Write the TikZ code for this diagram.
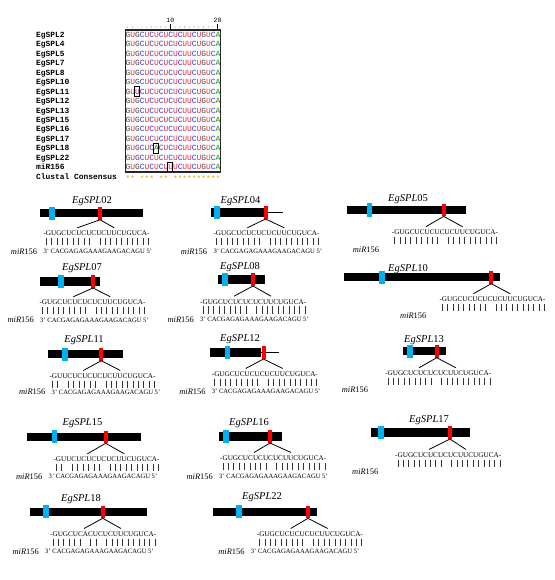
\documentclass[tikz,border=0pt]{standalone}
\usepackage{fontspec}
\setmainfont{Liberation Serif}
\newfontfamily\alnfont{Liberation Mono}
\usetikzlibrary{positioning}

\definecolor{markblue}{RGB}{0,176,240}
\definecolor{markred}{RGB}{255,0,0}
\definecolor{ntU}{RGB}{230,40,60}
\definecolor{ntC}{RGB}{50,50,235}
\definecolor{ntG}{RGB}{70,70,70}
\definecolor{ntA}{RGB}{0,150,0}
\definecolor{starorange}{RGB}{235,160,20}

% one coloured nucleotide, and a whole coloured row
\newcommand{\ntc}[1]{\if#1U\textcolor{ntU}{U}\else\if#1C\textcolor{ntC}{C}\else\if#1A\textcolor{ntA}{A}\else\textcolor{ntG}{#1}\fi\fi\fi}
\def\colseq#1{\colseqi#1\relax}
\def\colseqi#1{\ifx#1\relax\else\ntc{#1}\expandafter\colseqi\fi}

\newcommand{\gname}[1]{\textit{EgSPL}#1}
\newcommand{\mirname}{\textit{miR}156}

\tikzset{
  gtitle/.style={inner sep=0, font=\fontsize{10.5pt}{12pt}\selectfont},
  gbar/.style={fill=black, anchor=west, inner sep=0, minimum height=8.3pt},
  thinbar/.style={line width=1.2pt},
  bluemark/.style={fill=markblue, inner sep=0, minimum width=5.8pt, minimum height=13.3pt},
  redmark/.style={fill=markred, inner sep=0, minimum width=4pt, minimum height=12.6pt},
  seqtxt/.style={anchor=west, inner sep=0, font=\fontsize{7.2pt}{8pt}\selectfont},
  mirtxt/.style={anchor=west, inner sep=0, font=\fontsize{6.6pt}{8pt}\selectfont},
  mirlab/.style={inner sep=0, font=\fontsize{8.4pt}{9pt}\selectfont},
  fan/.style={line width=0.8pt},
  pairline/.style={line width=0.7pt, black!80},
  alnlab/.style={anchor=base west, inner sep=0, font=\alnfont\bfseries\fontsize{7.9pt}{9pt}\selectfont},
  alnseq/.style={anchor=base west, inner sep=0, font=\alnfont\fontsize{7.9pt}{9pt}\selectfont},
  alnbox/.style={line width=1.2pt, black!85},
  hitbox/.style={line width=1pt}
}

% target site under the red mark: sequence, fan and base pairs
\newcommand{\mirsite}[5]{%
  \node[seqtxt] (s#1) at (#2,#3) {-#4-};
  \coordinate (fl#1) at ({#2+34},{#3-5.5});
  \coordinate (fr#1) at ({#2+71},{#3-5.5});
  \draw[fan] (fl#1) -- (r#1.south) -- (fr#1);
  \foreach \k in {#5}
    \draw[pairline] ({#2+3+(\k-1)*5.37},{#3+4.5}) -- ++(0,7.5);
}
% miR156 strand with its label
\newcommand{\mirthree}[3]{%
  \node[mirtxt] (p#1) at (#2,#3) {3' CACGAGAGAAAGAAGACAGU 5'};
  \node[mirlab, left=6pt of p#1] (m#1) {\mirname};
}

\begin{document}
\begin{tikzpicture}[x=1pt,y=-1pt]
\useasboundingbox (0,0) rectangle (554,580);

% alignment
\foreach \lab/\sq [count=\i] in {EgSPL2/GUGCUCUCUCUCUUCUGUCA, EgSPL4/GUGCUCUCUCUCUUCUGUCA,
    EgSPL5/GUGCUCUCUCUCUUCUGUCA, EgSPL7/GUGCUCUCUCUCUUCUGUCA, EgSPL8/GUGCUCUCUCUCUUCUGUCA,
    EgSPL10/GUGCUCUCUCUCUUCUGUCA, EgSPL11/GUUCUCUCUCUCUUCUGUCA, EgSPL12/GUGCUCUCUCUCUUCUGUCA,
    EgSPL13/GUGCUCUCUCUCUUCUGUCA, EgSPL15/GUGCUCUCUCUCUUCUGUCA, EgSPL16/GUGCUCUCUCUCUUCUGUCA,
    EgSPL17/GUGCUCUCUCUCUUCUGUCA, EgSPL18/GUGCUCACUCUCUUCUGUCA, EgSPL22/GUGCUCUCUCUCUUCUGUCA,
    miR156/GUGCUCUCUUUCUUCUGUCA}{
  \node[alnlab] (l\i) at (36,{37.3+(\i-1)*9.47}) {\lab};
  \node[alnseq] (q\i) at (125.4,{37.3+(\i-1)*9.47}) {\expandafter\colseq\expandafter{\sq}};
}
\node[alnlab] (l16) at (36,179.3) {Clustal Consensus};
\node[alnseq, text=starorange] (q16) at (125.4,181) {**\ ***\ **\ **********};
\draw[alnbox] (125.3,30) rectangle (220.5,172);
\draw[hitbox] (134.6,86.8) rectangle (139.6,96.8);
\draw[hitbox] (153.4,143.6) rectangle (158.4,153.6);
\draw[hitbox] (167.9,172) -- (167.9,162.6) -- (172.8,162.6) -- (172.8,172);
% ruler
\foreach \k in {1,...,9,11,12,...,19}
  \fill ({125.3+(\k-0.5)*4.735},27) circle (0.35);
\draw[line width=0.5pt] (170.3,24.5) -- (170.3,29) (217.6,24.5) -- (217.6,29);
\node[inner sep=0, font=\alnfont\fontsize{6.5pt}{7pt}\selectfont] (n10) at (170.3,20.5) {10};
\node[inner sep=0, font=\alnfont\fontsize{6.5pt}{7pt}\selectfont] (n20) at (217.6,20.5) {20};

% EgSPL02
\node[gtitle] (t02) at (92,201) {\gname{02}};
\node[gbar, minimum width=103.4pt] (b02) at (39.3,213.3) {};
\node[bluemark] (u02) at (52.2,213.3) {};
\node[redmark] (r02) at (100,213.3) {};
\mirsite{02}{43.3}{233.3}{GUGCUCUCUCUCUUCUGUCA}{1,...,9,11,12,...,20}
\mirthree{02}{43.3}{251.5}

% EgSPL04
\node[gtitle] (t04) at (240.5,201) {\gname{04}};
\node[gbar, minimum width=52.5pt] (b04) at (211,212.5) {};
\coordinate (e04) at (283.3,212.5);
\draw[thinbar] (b04.east) -- (e04);
\node[bluemark] (u04) at (217.2,212.5) {};
\node[redmark] (r04) at (265.5,212.5) {};
\mirsite{04}{213.3}{233.3}{GUGCUCUCUCUCUUCUGUCA}{1,...,9,11,12,...,20}
\mirthree{04}{213.3}{251.5}

% EgSPL05
\node[gtitle] (t05) at (408,199) {\gname{05}};
\node[gbar, minimum width=119.3pt] (b05) at (346.7,209.9) {};
\node[bluemark] (u05) at (369.5,209.9) {};
\node[redmark] (r05) at (443.7,209.9) {};
\mirsite{05}{391.7}{232.3}{GUGCUCUCUCUCUUCUGUCA}{1,...,9,11,12,...,20}
\node[mirlab, anchor=west] (m05) at (352.7,249.3) {\mirname};

% EgSPL07
\node[gtitle] (t07) at (82,268) {\gname{07}};
\node[gbar, minimum width=60.7pt] (b07) at (39.3,281.5) {};
\node[bluemark] (u07) at (61.3,281.5) {};
\node[redmark] (r07) at (93,281.5) {};
\mirsite{07}{39.3}{302.3}{GUGCUCUCUCUCUUCUGUCA}{1,...,9,11,12,...,20}
\mirthree{07}{40}{320}

% EgSPL08
\node[gtitle] (t08) at (240,267) {\gname{08}};
\node[gbar, minimum width=47.3pt] (b08) at (217.7,279.5) {};
\node[bluemark] (u08) at (225.3,279.5) {};
\node[redmark] (r08) at (253,279.5) {};
\mirsite{08}{200}{301.7}{GUGCUCUCUCUCUUCUGUCA}{1,...,9,11,12,...,20}
\mirthree{08}{200}{319.5}

% EgSPL10
\node[gtitle] (t10) at (408,269) {\gname{10}};
\node[gbar, minimum width=155.3pt] (b10) at (344,277.2) {};
\node[bluemark] (u10) at (382,277.2) {};
\node[redmark] (r10) at (491.3,277.2) {};
\mirsite{10}{439.3}{299.3}{GUGCUCUCUCUCUUCUGUCA}{1,...,9,11,12,...,20}
\node[mirlab, anchor=west] (m10) at (400,316) {\mirname};

% EgSPL11
\node[gtitle] (t11) at (84,340) {\gname{11}};
\node[gbar, minimum width=75pt] (b11) at (47.7,354.2) {};
\node[bluemark] (u11) at (65.3,354.2) {};
\node[redmark] (r11) at (101.3,354.2) {};
\mirsite{11}{49.3}{376}{GUUCUCUCUCUCUUCUGUCA}{1,2,4,5,...,9,11,12,...,20}
\mirthree{11}{51.5}{392}

% EgSPL12
\node[gtitle] (t12) at (240,339) {\gname{12}};
\node[gbar, minimum width=51.7pt] (b12) at (209.3,352.5) {};
\coordinate (e12) at (279.3,352.5);
\draw[thinbar] (b12.east) -- (e12);
\node[bluemark] (u12) at (227.5,352.5) {};
\node[redmark] (r12) at (263.5,352.5) {};
\mirsite{12}{211.7}{374}{GUGCUCUCUCUCUUCUGUCA}{1,...,9,11,12,...,20}
\mirthree{12}{211.7}{391.5}

% EgSPL13
\node[gtitle] (t13) at (424,340) {\gname{13}};
\node[gbar, minimum width=43pt] (b13) at (402.7,351.2) {};
\node[bluemark] (u13) at (409.7,351.2) {};
\node[redmark] (r13) at (436.7,351.2) {};
\mirsite{13}{385}{373.3}{GUGCUCUCUCUCUUCUGUCA}{1,...,9,11,12,...,20}
\node[mirlab, anchor=west] (m13) at (341.7,390) {\mirname};

% EgSPL15
\node[gtitle] (t15) at (82.5,423.3) {\gname{15}};
\node[gbar, minimum width=114.3pt] (b15) at (26.7,436.8) {};
\node[bluemark] (u15) at (54.5,436.8) {};
\node[redmark] (r15) at (105.7,436.8) {};
\mirsite{15}{53.3}{459.3}{GUUCUCUCUCUCUUCUGUCA}{1,2,4,5,...,9,11,12,...,20}
\mirthree{15}{48.5}{476.5}

% EgSPL16
\node[gtitle] (t16) at (249,423) {\gname{16}};
\node[gbar, minimum width=63.7pt] (b16) at (218.3,436.5) {};
\node[bluemark] (u16) at (226.3,436.5) {};
\node[redmark] (r16) at (270,436.5) {};
\mirsite{16}{220}{458}{GUGCUCUCUCUCUUCUGUCA}{1,...,9,11,12,...,20}
\mirthree{16}{219}{476.5}

% EgSPL17
\node[gtitle] (t17) at (429,420) {\gname{17}};
\node[gbar, minimum width=99pt] (b17) at (371,432.5) {};
\node[bluemark] (u17) at (381,432.5) {};
\node[redmark] (r17) at (450,432.5) {};
\mirsite{17}{395}{455}{GUGCUCUCUCUCUUCUGUCA}{1,...,9,11,12,...,20}
\node[mirlab, anchor=west] (m17) at (352,472) {\mirname};

% EgSPL18
\node[gtitle] (t18) at (81,499.3) {\gname{18}};
\node[gbar, minimum width=117.4pt] (b18) at (29.3,511.8) {};
\node[bluemark] (u18) at (46,511.8) {};
\node[redmark] (r18) at (102.7,511.8) {};
\mirsite{18}{50}{534}{GUGCUCACUCUCUUCUGUCA}{1,...,6,8,9,11,12,...,20}
\mirthree{18}{45}{551.7}

% EgSPL22
\node[gtitle] (t22) at (262,497) {\gname{22}};
\node[gbar, minimum width=104pt] (b22) at (212.7,511.8) {};
\node[bluemark] (u22) at (238.8,511.8) {};
\node[redmark] (r22) at (308,511.8) {};
\mirsite{22}{256.7}{534}{GUGCUCUCUCUCUUCUGUCA}{1,...,9,11,12,...,20}
\mirthree{22}{250.7}{551.7}
\end{tikzpicture}
\end{document}
